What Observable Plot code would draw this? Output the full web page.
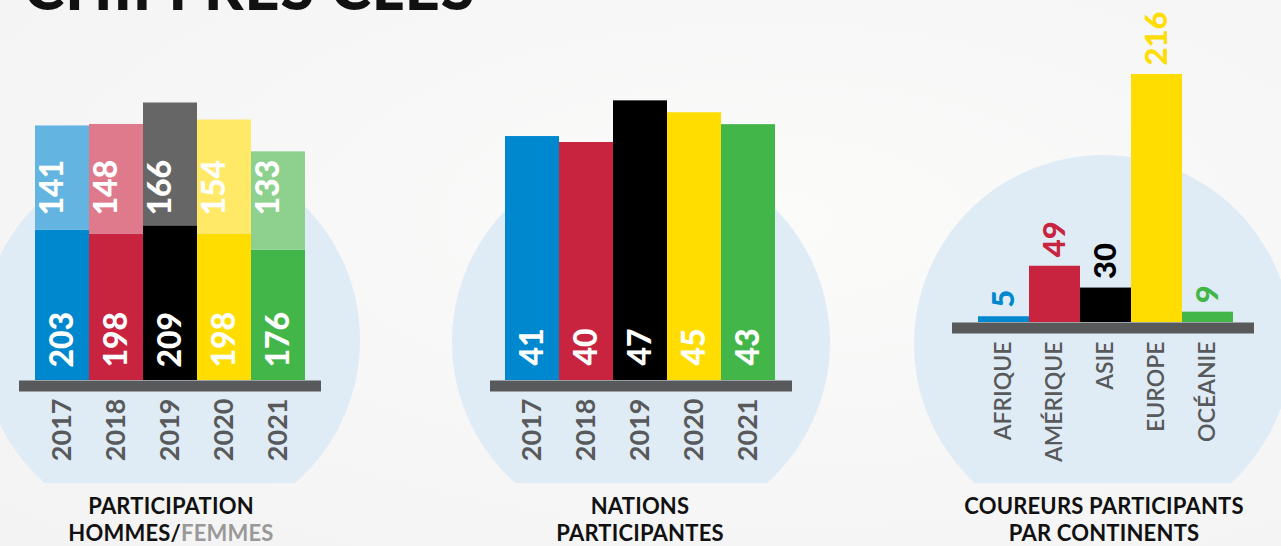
<!DOCTYPE html>
<html>
<head>
<meta charset="utf-8">
<script src="https://cdn.jsdelivr.net/npm/d3@7"></script>
<script src="https://cdn.jsdelivr.net/npm/@observablehq/plot@0.6"></script>
<style>
  html, body { margin: 0; padding: 0; background: #f7f7f7; }
  #page { position: relative; width: 1281px; height: 546px; overflow: hidden;
          background: radial-gradient(ellipse at 60% 40%, #fbfbfa 0%, #f6f6f6 60%, #f3f3f3 100%);
          font-family: Lato, "Open Sans", sans-serif; }
  #circles { position: absolute; left: 0; top: 0; width: 1281px; height: 483px; overflow: hidden; }
  .circle { position: absolute; border-radius: 50%; background: #e0ecf5; }
  .panel { position: absolute; top: 0; }
  .title { position: absolute; top: 492px; width: 400px; text-align: center; font-size: 22px;
           line-height: 27px; font-weight: 700; color: #111; letter-spacing: 0.2px; }
  .gray { color: #999; }
  #big { position: absolute; left: 24px; top: -44px; font-size: 61px; line-height: 61px; font-weight: 900; color: #111; letter-spacing: 1px; white-space: nowrap; }
</style>
</head>
<body>
<div id="page">
  <div id="circles"></div>
  <div id="big">CHIFFRES CLÉS</div>
  <div class="panel" id="p1" style="left:0px"></div>
  <div class="panel" id="p2" style="left:470px"></div>
  <div class="panel" id="p3" style="left:930px"></div>
  <div class="title" style="left:-29px">PARTICIPATION<br>HOMMES/<span class="gray">FEMMES</span></div>
  <div class="title" style="left:440px">NATIONS<br>PARTICIPANTES</div>
  <div class="title" style="left:904px">COUREURS PARTICIPANTS<br>PAR CONTINENTS</div>
</div>
<script>
// ---- data ----
const years = ["2017", "2018", "2019", "2020", "2021"];
const hommes = [203, 198, 209, 198, 176];
const femmes = [141, 148, 166, 154, 133];
const nations = [41, 40, 47, 45, 43];
const continents = ["AFRIQUE", "AMÉRIQUE", "ASIE", "EUROPE", "OCÉANIE"];
const coureurs = [5, 49, 30, 216, 9];
const darkColors = ["#0088ce", "#c8233f", "#000000", "#ffdd00", "#43b649"];
const lightColors = ["#63b4e0", "#df7a8c", "#666666", "#ffe966", "#8ed18f"];

// ---- background circles ----
const circles = [[170, 340, 190], [641, 342, 189], [1103, 344, 189]];
const cdiv = document.getElementById("circles");
for (const [cx, cy, r] of circles) {
  const d = document.createElement("div");
  d.className = "circle";
  Object.assign(d.style, {left: (cx - r) + "px", top: (cy - r) + "px", width: 2 * r + "px", height: 2 * r + "px"});
  cdiv.appendChild(d);
}

const shelf = "#58595b";
const font = "Lato, 'Open Sans', sans-serif";

// ---- panel 1 ----
const rows1 = years.map((y, i) => ({year: y, h: hommes[i], f: femmes[i], dark: darkColors[i], light: lightColors[i]}));
const p1 = Plot.plot({
  width: 340, height: 480,
  marginLeft: 19, marginRight: 19, marginTop: 0, marginBottom: 100,
  style: {fontFamily: font, background: "transparent", overflow: "visible"},
  x: {domain: years, range: [34, 306], padding: 0, axis: null},
  y: {domain: [0, 400], range: [380, 84], axis: null},
  color: {type: "identity"},
  marks: [
    Plot.barY(rows1, {x: "year", y1: d => 0, y2: "h", fill: "dark"}),
    Plot.barY(rows1, {x: "year", y1: "h", y2: d => d.h + d.f, fill: "light"}),
    Plot.ruleY([0], {stroke: shelf, strokeWidth: 11, dy: 5.5}),
    Plot.text(rows1, {x: "year", y: d => 0, text: d => String(d.h), rotate: -90, textAnchor: "start", dy: -13, fill: "white", fontSize: 32, fontWeight: 900}),
    Plot.text(rows1, {x: "year", text: d => String(d.f), frameAnchor: "bottom", rotate: -90, textAnchor: "start", dy: -165, fill: "white", fontSize: 32, fontWeight: 900}),
    Plot.text(rows1, {x: "year", y: d => 0, text: "year", rotate: -90, textAnchor: "end", dy: 18, fill: shelf, fontSize: 27, fontWeight: 700})
  ]
});
document.getElementById("p1").appendChild(p1);

// ---- panel 2 ----
const rows2 = years.map((y, i) => ({year: y, n: nations[i], dark: darkColors[i]}));
const p2 = Plot.plot({
  width: 340, height: 480,
  marginLeft: 20, marginRight: 18, marginTop: 0, marginBottom: 100,
  style: {fontFamily: font, background: "transparent", overflow: "visible"},
  x: {domain: years, range: [34, 306], padding: 0, axis: null},
  y: {domain: [0, 50], range: [380, 82.5], axis: null},
  color: {type: "identity"},
  marks: [
    Plot.barY(rows2, {x: "year", y1: d => 0, y2: "n", fill: "dark"}),
    Plot.ruleY([0], {stroke: shelf, strokeWidth: 11, dy: 5.5}),
    Plot.text(rows2, {x: "year", y: d => 0, text: d => String(d.n), rotate: -90, textAnchor: "start", dy: -15, fill: "white", fontSize: 32, fontWeight: 900}),
    Plot.text(rows2, {x: "year", y: d => 0, text: "year", rotate: -90, textAnchor: "end", dy: 18, fill: shelf, fontSize: 27, fontWeight: 700})
  ]
});
document.getElementById("p2").appendChild(p2);

// ---- panel 3 ----
const rows3 = continents.map((c, i) => ({cont: c, v: coureurs[i], dark: darkColors[i]}));
const p3 = Plot.plot({
  width: 340, height: 480,
  marginLeft: 22, marginRight: 16, marginTop: 0, marginBottom: 158,
  style: {fontFamily: font, background: "transparent", overflow: "visible"},
  x: {domain: continents, range: [47, 303], padding: 0, axis: null},
  y: {domain: [0, 250], range: [322, 35], axis: null},
  color: {type: "identity"},
  marks: [
    Plot.barY(rows3, {x: "cont", y1: d => 0, y2: "v", fill: "dark"}),
    Plot.ruleY([0], {stroke: shelf, strokeWidth: 11, dy: 5.5}),
    Plot.text(rows3, {x: "cont", y: "v", text: d => String(d.v), rotate: -90, textAnchor: "start", dy: -9, fill: "dark", fontSize: 31, fontWeight: 900}),
    Plot.text(rows3, {x: "cont", y: d => 0, text: "cont", rotate: -90, textAnchor: "end", dy: 19, fill: shelf, fontSize: 23, fontWeight: 600})
  ]
});
document.getElementById("p3").appendChild(p3);
</script>
</body>
</html>
